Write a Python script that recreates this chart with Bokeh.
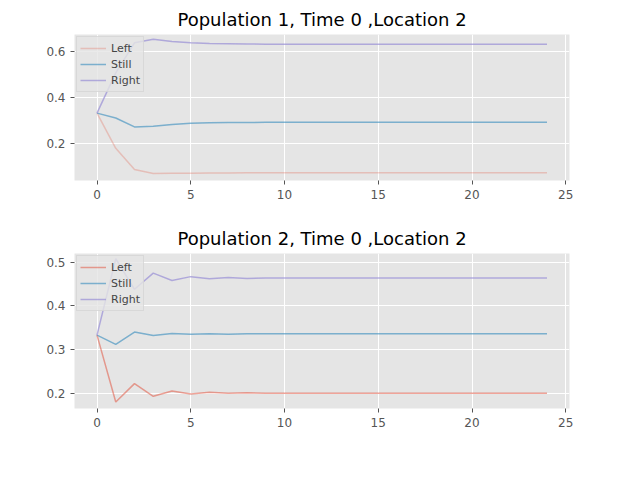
from bokeh.plotting import figure
from bokeh.layouts import column
from bokeh.models import Range1d
from bokeh.embed import file_html
from bokeh.resources import INLINE

steps = list(range(25))

left_1 = [0.333, 0.18, 0.088, 0.07, 0.071, 0.072, 0.073, 0.073, 0.074, 0.074] + [0.074] * 15
still_1 = [0.333, 0.312, 0.273, 0.276, 0.284, 0.289, 0.291, 0.292, 0.292, 0.293] + [0.293] * 15
right_1 = [0.333, 0.508, 0.639, 0.654, 0.645, 0.639, 0.636, 0.635, 0.634, 0.633] + [0.633] * 15

left_2 = [0.333, 0.18, 0.222, 0.193, 0.205, 0.198, 0.202, 0.2, 0.201, 0.2] + [0.2] * 15
still_2 = [0.333, 0.312, 0.34, 0.332, 0.337, 0.335, 0.336, 0.335, 0.336, 0.336] + [0.336] * 15
right_2 = [0.333, 0.508, 0.438, 0.475, 0.458, 0.467, 0.462, 0.465, 0.463, 0.464] + [0.464] * 15

yticks_1 = [0.2, 0.4, 0.6]
yticks_2 = [0.2, 0.3, 0.4, 0.5]


def make(title, left, still, right, yr, yticks, fh, left_alpha, top, bottom):
    p = figure(title=title, frame_width=495, frame_height=fh, width=624,
               x_range=Range1d(-1.2, 25.2), y_range=Range1d(*yr),
               output_backend="svg", toolbar_location=None,
               min_border_left=74, min_border_right=55, min_border_top=top,
               min_border_bottom=bottom)
    p.background_fill_color = "#E5E5E5"
    p.border_fill_color = "white"
    p.outline_line_color = None
    p.grid.grid_line_color = "white"
    p.grid.grid_line_width = 1
    p.title.align = "center"
    p.title.text_font = "DejaVu Sans"
    p.title.text_font_size = "18px"
    p.title.text_font_style = "normal"
    p.title.text_color = "black"
    for ax in (p.xaxis, p.yaxis):
        ax.axis_line_color = None
        ax.major_tick_line_color = "#555555"
        ax.minor_tick_line_color = None
        ax.major_tick_in = 0
        ax.major_tick_out = 4
        ax.major_label_text_color = "#555555"
        ax.major_label_text_font = "DejaVu Sans"
        ax.major_label_text_font_size = "12px"
    p.xaxis.ticker = [0, 5, 10, 15, 20, 25]
    p.yaxis.ticker = yticks
    p.line(steps, left, color="#E24A33", alpha=left_alpha, line_width=1.5, legend_label="Left")
    p.line(steps, still, color="#348ABD", alpha=0.6, line_width=1.5, legend_label="Still")
    p.line(steps, right, color="#988ED5", alpha=0.7, line_width=1.5, legend_label="Right")
    p.legend.location = "top_left"
    p.legend.label_text_font_size = "11px"
    p.legend.label_text_font = "DejaVu Sans"
    p.legend.background_fill_color = "#E5E5E5"
    p.legend.background_fill_alpha = 0.8
    p.legend.border_line_color = "#CCCCCC"
    p.legend.glyph_width = 26
    p.legend.spacing = 0
    p.legend.padding = 3
    p.legend.margin = 2
    p.legend.label_height = 16
    p.legend.glyph_height = 16
    return p


p1 = make("Population 1, Time 0 ,Location 2", left_1, still_1, right_1,
          (0.04, 0.675), yticks_1, 146, 0.25, 34, 40)
p2 = make("Population 2, Time 0 ,Location 2", left_2, still_2, right_2,
          (0.165, 0.52), yticks_2, 155, 0.5, 5, 30)

p = column(p1, p2, spacing=0)
open("out.html", "w").write(file_html(p, INLINE))
